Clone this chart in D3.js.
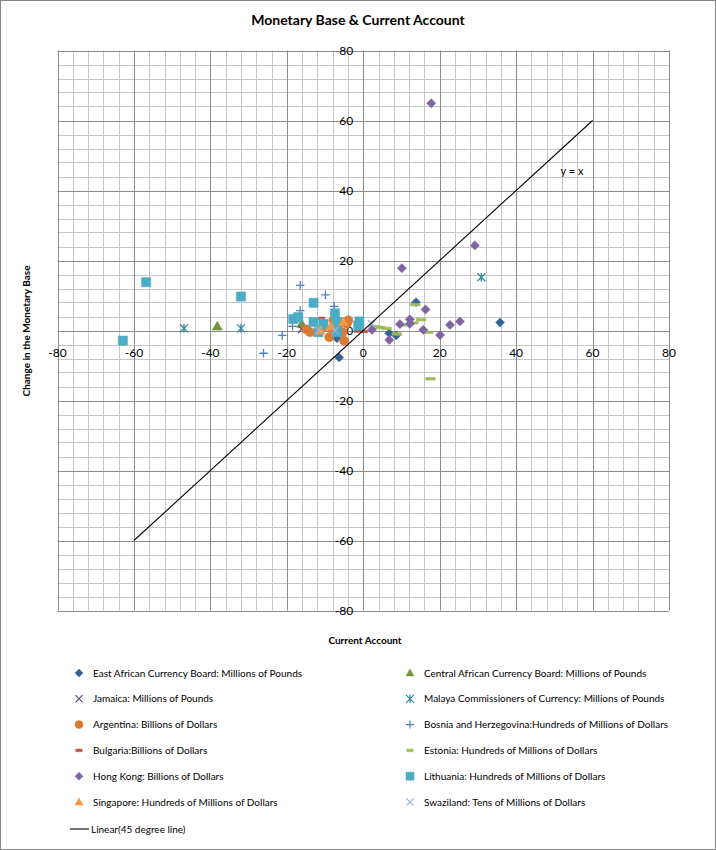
<!DOCTYPE html>
<html><head><meta charset="utf-8">
<script src="https://cdn.jsdelivr.net/npm/d3@7"></script>
<style>
body{margin:0;background:#fff}
svg{display:block}
text{font-family:Lato,'Open Sans',sans-serif;fill:#000}
</style>
</head><body><svg id="chart" width="716" height="850"></svg>
<script>
// ---------- data ----------
const xTicks = [-80,-60,-40,-20,0,20,40,60,80];
const yTicks = [-80,-60,-40,-20,0,20,40,60,80];

const eastAfrican = [[35.8,2.3],[13.8,8.1],[-6.3,-7.7],[6.8,-0.8],[8.6,-1.4],[-6.9,-2.2]];
const centralAfrican = [[-38.2,1.2],[-16.1,1.9]];
const jamaica = [[-16.1,0.4]];
const malaya = [[-46.9,0.6],[-32,0.6],[30.9,15.2]];
const argentina = [[-14.8,0.3],[-13.9,-0.5],[-8.9,-1.9],[-8.2,0.5],[-7.8,2.9],[-6.1,1.9],[-4.3,1.9],[-3.9,2.9],[-5.4,-0.5],[-5,-2.9],[-10.5,1]];
const bosnia = [[-16.5,12.9],[-9.9,10.2],[-7.6,6.9],[-16.5,5.7],[-18.5,1.2],[-21.2,-1.4],[-26.1,-6.5],[-6.5,3.5]];
const bulgaria = [[-10.9,3.5],[-1.5,-0.2],[0.3,-0.3]];
const estonia = [[3.1,1.1],[4.4,0.9],[6.1,0.6],[8.8,-1.0],[11.2,1.6],[13.1,2.2],[15.1,3.1],[13.6,7.4],[17,-0.5],[17.6,-13.8]];
const hongKong = [[17.8,64.9],[29.2,24.3],[10.1,17.8],[16.3,6],[9.6,1.8],[12.2,3.2],[12.2,1.9],[6.8,-2.7],[15.7,0.2],[20.1,-1.3],[22.7,1.6],[25.3,2.6],[2.3,0.2]];
const lithuania = [[-62.9,-2.9],[-56.8,13.8],[-32,9.7],[-13,7.9],[-18.3,3.3],[-17,3.8],[-13,2.4],[-10.4,1.9],[-7.4,4.9],[-6.9,2.4],[-11.7,-0.5],[-6.9,-0.5],[-1.3,1.4],[-1,2.6]];
const singapore = [[-5.2,2.4],[-11.3,0],[-8.5,1.2]];
const swaziland = [[-11.7,0],[-7.4,0],[2.2,1.9]];

const lineX = [-60, 60];
const lineY = [-60, 60];

const seriesNames = [
  "East African Currency Board: Millions of Pounds",
  "Central African Currency Board: Millions of Pounds",
  "Jamaica: Millions of Pounds",
  "Malaya Commissioners of Currency: Millions of Pounds",
  "Argentina: Billions of Dollars",
  "Bosnia and Herzegovina:Hundreds of Millions of Dollars",
  "Bulgaria:Billions of Dollars",
  "Estonia: Hundreds of Millions of Dollars",
  "Hong Kong: Billions of Dollars",
  "Lithuania: Hundreds of Millions of Dollars",
  "Singapore: Hundreds of Millions of Dollars",
  "Swaziland: Tens of Millions of Dollars"
];
const lineName = "Linear(45 degree line)";

// ---------- symbol shapes (size = half width) ----------
const sym = {
  diamond:{draw(c,r){c.moveTo(0,-r);c.lineTo(r,0);c.lineTo(0,r);c.lineTo(-r,0);c.closePath();}},
  triangle:{draw(c,r){c.moveTo(0,-r);c.lineTo(r,r*0.75);c.lineTo(-r,r*0.75);c.closePath();}},
  square:{draw(c,r){c.rect(-r,-r,2*r,2*r);}},
  circle:{draw(c,r){c.moveTo(r,0);c.arc(0,0,r,0,2*Math.PI);}},
  xmark:{draw(c,r){c.moveTo(-r,-r);c.lineTo(r,r);c.moveTo(r,-r);c.lineTo(-r,r);}},
  plus:{draw(c,r){c.moveTo(-r,0);c.lineTo(r,0);c.moveTo(0,-r);c.lineTo(0,r);}},
  star:{draw(c,r){c.moveTo(-r,-r);c.lineTo(r,r);c.moveTo(r,-r);c.lineTo(-r,r);c.moveTo(0,-r*1.1);c.lineTo(0,r*1.1);}},
  dash:{draw(c,r){c.rect(-r,-1.3,2*r,2.6);}}
};

const series = [
  {data:eastAfrican,    shape:"diamond", r:4.5, color:"#35649C", filled:true},
  {data:centralAfrican, shape:"triangle",r:5,   color:"#77933C", filled:true},
  {data:jamaica,        shape:"xmark",   r:3.6, color:"#5F497A", filled:false},
  {data:malaya,         shape:"star",    r:4,   color:"#31859C", filled:false},
  {data:argentina,      shape:"circle",  r:4.6, color:"#DB7A33", filled:true},
  {data:bosnia,         shape:"plus",    r:4.3, color:"#4F81BD", filled:false},
  {data:bulgaria,       shape:"dash",    r:3.2, color:"#C0504D", filled:true},
  {data:estonia,        shape:"dash",    r:4.8, color:"#9BBB59", filled:true},
  {data:hongKong,       shape:"diamond", r:4.6, color:"#8064A2", filled:true},
  {data:lithuania,      shape:"square",  r:4.6, color:"#4BACC6", filled:true},
  {data:singapore,      shape:"triangle",r:5,   color:"#F79646", filled:true},
  {data:swaziland,      shape:"xmark",   r:3.6, color:"#95B3D7", filled:false}
];

// ---------- drawing ----------
const svg = d3.select("#chart");
svg.append("rect").attr("x",0.5).attr("y",0.5).attr("width",715).attr("height",849)
  .attr("fill","#fff").attr("stroke","#868686");

const x = d3.scaleLinear().domain([-80,80]).range([57.5,669]);
const y = d3.scaleLinear().domain([-80,80]).range([610.5,50.5]);

// minor grid
const g = svg.append("g");
g.selectAll(".vmin").data(d3.range(-80,81,4)).join("line")
  .attr("x1",d=>Math.round(x(d))+0.5).attr("x2",d=>Math.round(x(d))+0.5)
  .attr("y1",y(80)).attr("y2",y(-80)).attr("stroke","#c6c6c6").attr("stroke-width",1);
g.selectAll(".hmin").data(d3.range(-80,81,4)).join("line")
  .attr("y1",d=>Math.round(y(d))+0.5).attr("y2",d=>Math.round(y(d))+0.5)
  .attr("x1",x(-80)).attr("x2",x(80)).attr("stroke","#c6c6c6").attr("stroke-width",1);
// major grid
g.selectAll(".vmaj").data(xTicks).join("line")
  .attr("x1",d=>Math.round(x(d))+0.5).attr("x2",d=>Math.round(x(d))+0.5)
  .attr("y1",y(80)).attr("y2",y(-80)).attr("stroke","#8c8c8c").attr("stroke-width",1);
g.selectAll(".hmaj").data(yTicks).join("line")
  .attr("y1",d=>Math.round(y(d))+0.5).attr("y2",d=>Math.round(y(d))+0.5)
  .attr("x1",x(-80)).attr("x2",x(80)).attr("stroke","#8c8c8c").attr("stroke-width",1);

// tick labels
svg.append("g").selectAll("text").data(xTicks).join("text")
  .attr("x",d=>x(d)).attr("y",y(0)+26).attr("text-anchor","middle")
  .attr("font-size",12).text(d=>d);
svg.append("g").selectAll("text").data(yTicks).join("text")
  .attr("x",x(0)-10).attr("y",d=>y(d)+4).attr("text-anchor","end")
  .attr("font-size",12).text(d=>d);

// points
series.forEach(s=>{
  const gen = d3.symbol().type(sym[s.shape]).size(s.r);
  svg.append("g").selectAll("path").data(s.data).join("path")
    .attr("transform",d=>`translate(${x(d[0])},${y(d[1])})`)
    .attr("d",gen)
    .attr("fill",s.filled?s.color:"none")
    .attr("stroke",s.color)
    .attr("stroke-width",s.filled?0.5:1.3);
});

// 45 degree line
svg.append("line")
  .attr("x1",x(lineX[0])).attr("y1",y(lineY[0]))
  .attr("x2",x(lineX[1])).attr("y2",y(lineY[1]))
  .attr("stroke","#000").attr("stroke-width",1.1);
svg.append("text").attr("x",x(54.6)).attr("y",y(45.7)+4).attr("text-anchor","middle")
  .attr("font-size",11).text("y = x");

// titles
svg.append("text").attr("x",358).attr("y",25).attr("text-anchor","middle")
  .attr("font-size",14).attr("font-weight","bold").text("Monetary Base & Current Account");
svg.append("text").attr("x",365).attr("y",644).attr("text-anchor","middle")
  .attr("font-size",10).attr("font-weight","bold").text("Current Account");
svg.append("text").attr("transform","translate(30,331) rotate(-90)").attr("text-anchor","middle")
  .attr("font-size",10).attr("font-weight","bold").text("Change in the Monetary Base");

// legend
const leg = svg.append("g");
series.forEach((s,i)=>{
  const col = i%2, row = Math.floor(i/2);
  const lx = col===0?79:410, ly = 673 + row*25.8;
  const gen = d3.symbol().type(sym[s.shape]).size(s.shape==="dash"?3.2:Math.min(s.r,4));
  leg.append("path").attr("transform",`translate(${lx},${ly})`).attr("d",gen)
    .attr("fill",s.filled?s.color:"none").attr("stroke",s.color)
    .attr("stroke-width",s.filled?0.5:1.2);
  leg.append("text").attr("x",lx+14).attr("y",ly+3.5).attr("font-size",10)
    .text(seriesNames[i]);
});
leg.append("line").attr("x1",70).attr("x2",89).attr("y1",829).attr("y2",829)
  .attr("stroke","#000").attr("stroke-width",1.1);
leg.append("text").attr("x",91).attr("y",832.5).attr("font-size",10).text(lineName);
</script>
</body></html>
